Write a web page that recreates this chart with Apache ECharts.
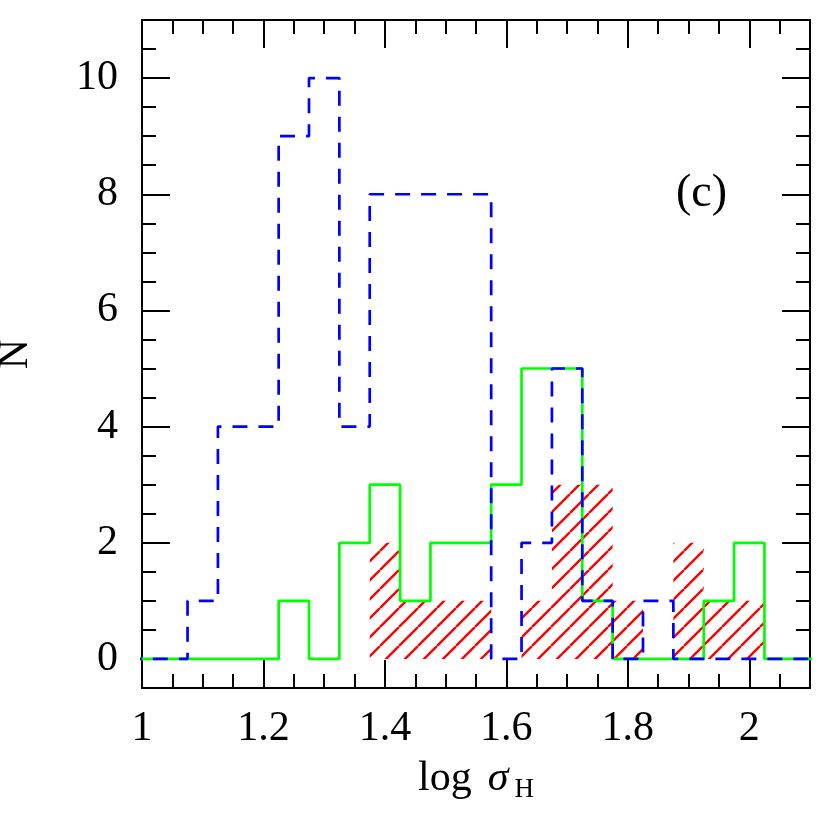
<!DOCTYPE html>
<html><head><meta charset="utf-8">
<script src="https://cdn.jsdelivr.net/npm/echarts@6/dist/echarts.min.js"></script>
<style>html,body{margin:0;padding:0;background:#fff}#c{width:830px;height:821px}</style>
</head><body><div id="c"></div>
<script>
// bin centres (bin width 0.05)
const binCenters = [1.00,1.05,1.10,1.15,1.20,1.25,1.30,1.35,1.40,1.45,1.50,1.55,1.60,1.65,1.70,1.75,1.80,1.85,1.90,1.95,2.00,2.05,2.10];
const binWidth = 0.05;
// blue dashed histogram
const blueCounts  = [0,0,1,4,4,9,10,4,8,8,8,8,0,2,5,1,0,1,0,0,0,0,0];
// green solid histogram
const greenCounts = [0,0,0,0,0,1,0,2,3,1,2,2,3,5,5,1,0,0,0,1,2,0,0];
// red hatched histogram
const redCounts   = [0,0,0,0,0,0,0,0,2,1,1,1,0,1,3,3,1,0,2,1,1,0,0];

const xMajorTicks = [1,1.2,1.4,1.6,1.8,2];
const xMinorTicks = [1.05,1.1,1.15,1.25,1.3,1.35,1.45,1.5,1.55,1.65,1.7,1.75,1.85,1.9,1.95,2.05];
const yMajorTicks = [0,2,4,6,8,10];
const yMinorTicks = [0.5,1,1.5,2.5,3,3.5,4.5,5,5.5,6.5,7,7.5,8.5,9,9.5,10.5];

function stepData(counts){
  const pts = binCenters.map((c,i)=>[c-binWidth/2, counts[i]]);
  pts.push([binCenters[binCenters.length-1]+binWidth/2, counts[counts.length-1]]);
  return pts;
}

// hatch pattern
const s = 19;
const cv = document.createElement('canvas');
cv.width = s; cv.height = s;
const ctx = cv.getContext('2d');
ctx.strokeStyle = '#ff0000';
ctx.lineWidth = 2.4;
ctx.beginPath();
for (let k=-1;k<=1;k++){ ctx.moveTo(k*s, s); ctx.lineTo(k*s+s, 0); }
ctx.stroke();

const FONT = 'Liberation Serif';
const black = '#000';
function xAx(pos, ticks, len, showLine, showLabel){
  return {
    type:'value', min:1, max:2.1, position:pos,
    axisLine:{show:showLine, onZero:false, lineStyle:{color:black,width:2}},
    axisTick:{show:true, inside:true, length:len, customValues:ticks, lineStyle:{color:black,width:2}},
    axisLabel:{show:showLabel, customValues:ticks, margin:20, color:black, fontFamily:FONT, fontSize:42,
      formatter:v=>String(+v.toFixed(2))},
    splitLine:{show:false}
  };
}
function yAx(pos, ticks, len, showLine, showLabel){
  return {
    type:'value', min:-0.5, max:11, position:pos,
    axisLine:{show:showLine, onZero:false, lineStyle:{color:black,width:2}},
    axisTick:{show:true, inside:true, length:len, customValues:ticks, lineStyle:{color:black,width:2}},
    axisLabel:{show:showLabel, customValues:ticks, margin:24, color:black, fontFamily:FONT, fontSize:42,
      formatter:v=>String(v)},
    splitLine:{show:false}
  };
}
const xb = xAx('bottom', xMajorTicks, 28, true, true);
xb.name = '{a|log}{sp| }{s|σ}{b|H}';
xb.nameLocation = 'middle';
xb.nameGap = 66;
xb.nameTextStyle = {color:black, fontFamily:FONT, fontSize:42, rich:{
  a:{fontFamily:FONT, fontSize:42, color:black},
  sp:{fontFamily:FONT, fontSize:42, width:16},
  s:{fontFamily:FONT, fontSize:42, fontStyle:'italic', color:black},
  b:{fontFamily:FONT, fontSize:27, color:black, verticalAlign:'bottom', padding:[22,0,0,6]}
}};
const yl = yAx('left', yMajorTicks, 28, true, true);
yl.name = 'N';
yl.nameLocation = 'middle';
yl.nameGap = 105;
yl.nameTextStyle = {color:black, fontFamily:FONT, fontSize:42};

const option = {
  animation:false,
  backgroundColor:'#fff',
  grid:{left:142, top:20, width:668, height:668, outerBoundsMode:'none', containLabel:false},
  title:{text:'(c)', left:671, top:166, textStyle:{color:black, fontFamily:FONT, fontSize:46, fontWeight:'normal'}},
  xAxis:[ xb, xAx('bottom', xMinorTicks, 14, false, false), xAx('top', xMajorTicks, 28, true, false), xAx('top', xMinorTicks, 14, false, false) ],
  yAxis:[ yl, yAx('left', yMinorTicks, 14, false, false), yAx('right', yMajorTicks, 28, true, false), yAx('right', yMinorTicks, 14, false, false) ],
  series:[
    {type:'line', step:'end', data:stepData(redCounts), showSymbol:false, silent:true,
     lineStyle:{opacity:0, width:0}, areaStyle:{color:{image:cv, repeat:'repeat'}, opacity:1}, z:1},
    {type:'line', step:'end', data:stepData(greenCounts), showSymbol:false, silent:true,
     lineStyle:{color:'#00ff00', width:2.7}, z:2},
    {type:'line', step:'end', data:stepData(blueCounts), showSymbol:false, silent:true,
     lineStyle:{color:'#0000ff', width:2.7, type:[15,11]}, z:3}
  ]
};
const chart = echarts.init(document.getElementById('c'), null, {renderer:'canvas'});
chart.setOption(option);
</script>
</body></html>
